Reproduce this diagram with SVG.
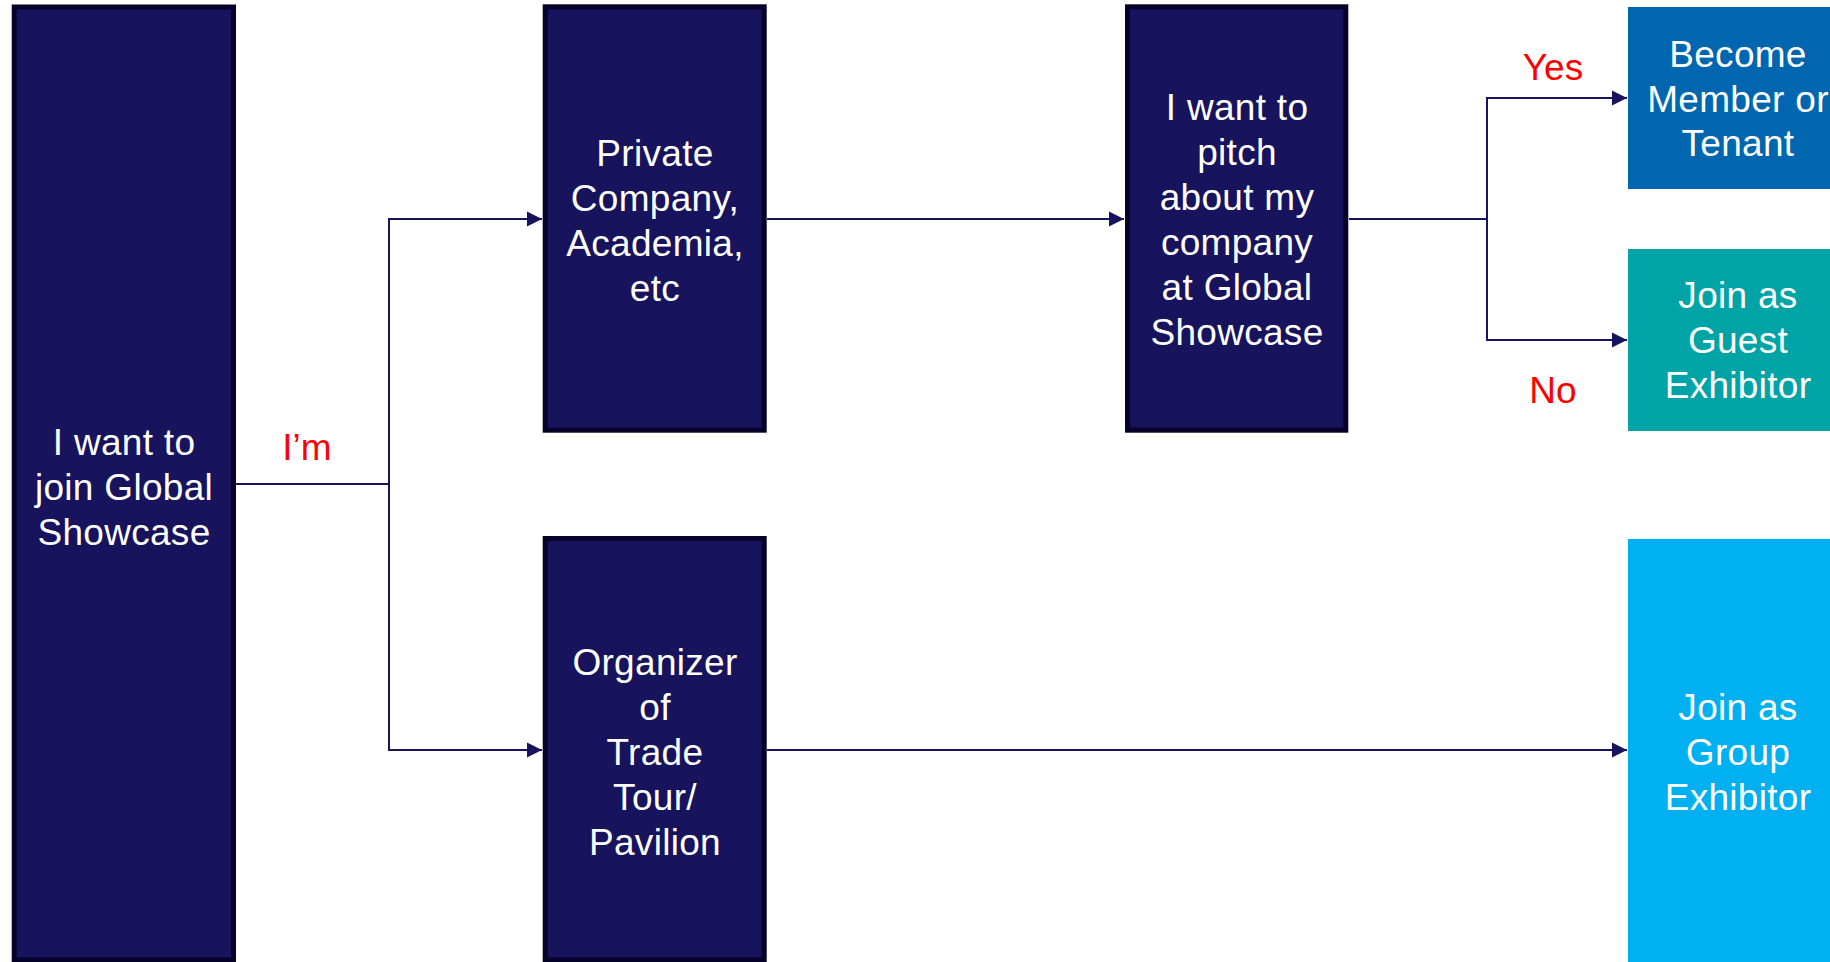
<svg xmlns="http://www.w3.org/2000/svg" width="1830" height="962" viewBox="0 0 1830 962">
<style>
.navy{fill:#17135c;stroke:#06022a;stroke-width:5}
.t{font-family:"Liberation Sans",Arial,sans-serif;font-size:37px;letter-spacing:0.3px;fill:#ffffff;text-anchor:middle}
.lbl{font-family:"Liberation Sans",Arial,sans-serif;font-size:37px;fill:#ff0000;text-anchor:middle}
.c{fill:none;stroke:#17135c;stroke-width:2}
</style>
<defs>
<marker id="arr" markerUnits="userSpaceOnUse" markerWidth="16" markerHeight="16" viewBox="0 0 16 16" refX="15" refY="8" orient="auto">
<path d="M0,0.5 L15,8 L0,15.5 Z" fill="#17135c"/>
</marker>
</defs>
<rect width="1830" height="962" fill="#ffffff"/>
<g id="connectors">
<path class="c" d="M236,484 H389"/>
<path class="c" d="M389,484 V219 H542" marker-end="url(#arr)"/>
<path class="c" d="M389,484 V750 H542" marker-end="url(#arr)"/>
<path class="c" d="M767,219 H1124" marker-end="url(#arr)"/>
<path class="c" d="M1349,219 H1487"/>
<path class="c" d="M1487,219 V98 H1627" marker-end="url(#arr)"/>
<path class="c" d="M1487,219 V340 H1627" marker-end="url(#arr)"/>
<path class="c" d="M767,750 H1627" marker-end="url(#arr)"/>
</g>
<g id="labels">
<text class="lbl" x="307" y="460">I’m</text>
<text class="lbl" x="1553" y="80">Yes</text>
<text class="lbl" x="1553" y="403">No</text>
</g>
<g id="node-join">
<rect class="navy" x="14.2" y="7" width="219.3" height="953"/>
<text class="t" x="124" y="455">I want to</text>
<text class="t" x="124" y="500">join Global</text>
<text class="t" x="124" y="545">Showcase</text>
</g>
<g id="node-private">
<rect class="navy" x="545.2" y="6.8" width="219" height="423.4"/>
<text class="t" x="655" y="166">Private</text>
<text class="t" x="655" y="211">Company,</text>
<text class="t" x="655" y="256">Academia,</text>
<text class="t" x="655" y="301">etc</text>
</g>
<g id="node-organizer">
<rect class="navy" x="545.2" y="538.5" width="219" height="421.5"/>
<text class="t" x="655" y="675">Organizer</text>
<text class="t" x="655" y="720">of</text>
<text class="t" x="655" y="765">Trade</text>
<text class="t" x="655" y="810">Tour/</text>
<text class="t" x="655" y="855">Pavilion</text>
</g>
<g id="node-pitch">
<rect class="navy" x="1127.5" y="6.8" width="218.3" height="423.4"/>
<text class="t" x="1237" y="120">I want to</text>
<text class="t" x="1237" y="165">pitch</text>
<text class="t" x="1237" y="210">about my</text>
<text class="t" x="1237" y="255">company</text>
<text class="t" x="1237" y="300">at Global</text>
<text class="t" x="1237" y="345">Showcase</text>
</g>
<g id="node-member">
<rect x="1628" y="7" width="220" height="182" fill="#0066b0"/>
<text class="t" x="1738" y="67">Become</text>
<text class="t" x="1738" y="112">Member or</text>
<text class="t" x="1738" y="156">Tenant</text>
</g>
<g id="node-guest">
<rect x="1628" y="249" width="220" height="182" fill="#00a4a6"/>
<text class="t" x="1738" y="308">Join as</text>
<text class="t" x="1738" y="353">Guest</text>
<text class="t" x="1738" y="398">Exhibitor</text>
</g>
<g id="node-group">
<rect x="1628" y="539" width="220" height="423" fill="#00b0f0"/>
<text class="t" x="1738" y="720">Join as</text>
<text class="t" x="1738" y="765">Group</text>
<text class="t" x="1738" y="810">Exhibitor</text>
</g>
</svg>
